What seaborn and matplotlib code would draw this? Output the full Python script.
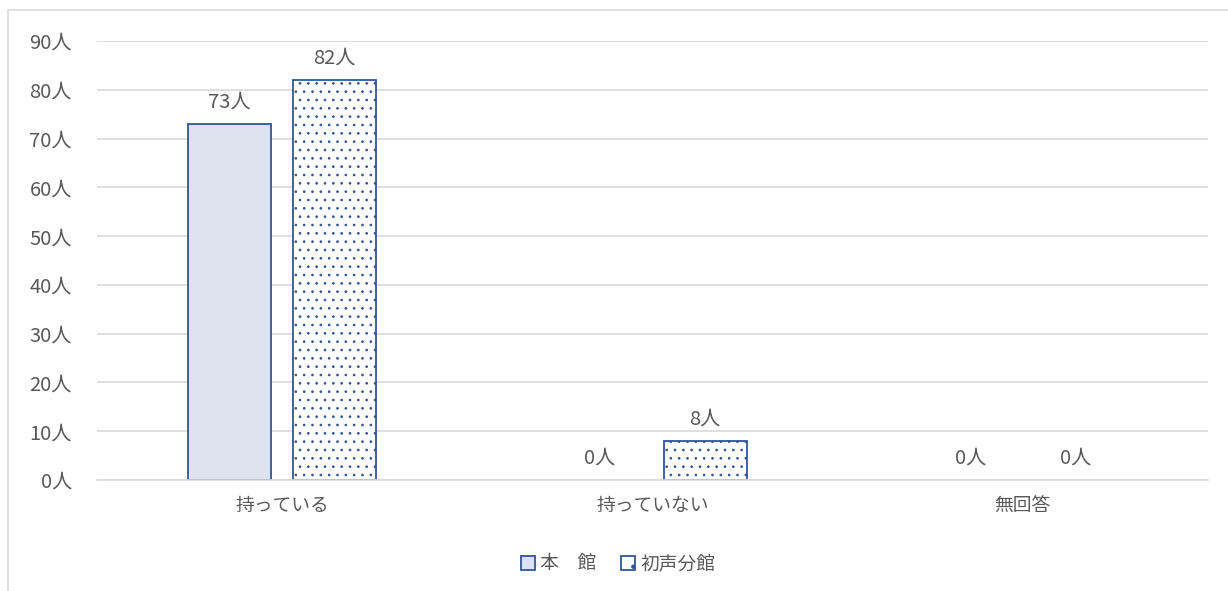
import pandas as pd
import numpy as np
import matplotlib.pyplot as plt
import seaborn as sns
from matplotlib.patches import Rectangle, Patch

categories = ['持っている', '持っていない', '無回答']
series_names = ['本　館', '初声分館']
honkan = [73, 0, 0]
hatsuse = [82, 8, 0]
yticks = list(range(0, 91, 10))

df = pd.DataFrame({
    'category': categories * 2,
    'series': [series_names[0]] * 3 + [series_names[1]] * 3,
    'value': honkan + hatsuse,
})

sns.set_theme(style='white')
plt.rcParams['font.family'] = ['Noto Sans CJK JP', 'DejaVu Sans']
plt.rcParams['hatch.color'] = '#2F5597'
plt.rcParams['hatch.linewidth'] = 0.7

text_color = '#595959'
edge_color = '#2F5597'
fs = 13.5
fs_num = 14.5

fig = plt.figure(figsize=(12.28, 5.91), dpi=100)
ax = fig.add_axes([97 / 1228, 1 - 480 / 591, 1111 / 1228, 439 / 591])

sns.barplot(data=df, x='category', y='value', hue='series', hue_order=series_names,
            order=categories, width=0.568, gap=0.21, ax=ax,
            palette=['#DAE3F3', 'white'], edgecolor=edge_color, linewidth=1.3,
            legend=False)

# dotted pattern on the second series, nothing drawn for zero bars
for bar in ax.containers[1]:
    bar.set_hatch('..')
for cont in ax.containers:
    for bar in cont:
        if bar.get_height() == 0:
            bar.set_linewidth(0)
            bar.set_hatch(None)

for cont in ax.containers:
    labels = [f'{int(v)}人' for v in cont.datavalues]
    ax.bar_label(cont, labels=labels, padding=8, fontsize=fs_num, color=text_color)

ax.set_xlim(-0.5, 2.5)
ax.set_ylim(0, 90)
ax.set_yticks(yticks)
ax.set_yticklabels([f'{v}人' for v in yticks], fontsize=fs_num)
ax.yaxis.grid(True, color='#D9D9D9', linewidth=1.2)
ax.set_axisbelow(True)
for s in ['top', 'right', 'left']:
    ax.spines[s].set_visible(False)
ax.spines['bottom'].set_color('#D9D9D9')
ax.spines['bottom'].set_linewidth(1.2)
ax.tick_params(axis='both', length=0, colors=text_color)
ax.tick_params(axis='x', labelsize=fs, pad=11)
ax.tick_params(axis='y', pad=18)
ax.set_xlabel('')
ax.set_ylabel('')

handles = [Patch(facecolor='#DAE3F3', edgecolor=edge_color, linewidth=1.3),
           Patch(facecolor='white', edgecolor=edge_color, linewidth=1.3, hatch='.')]
fig.legend(handles, series_names, loc='center', bbox_to_anchor=(618 / 1228, 1 - 564 / 591),
           ncol=2, frameon=False, fontsize=fs, labelcolor=text_color,
           handlelength=0.75, handleheight=0.75, handletextpad=0.3, columnspacing=1.3)

fig.patches.append(Rectangle((8 / 1228, -0.1), 1.2, 1 - 10 / 591 + 0.1, transform=fig.transFigure,
                             fill=False, edgecolor='#D9D9D9', linewidth=1.2))

fig.savefig('out.png', dpi=100)
